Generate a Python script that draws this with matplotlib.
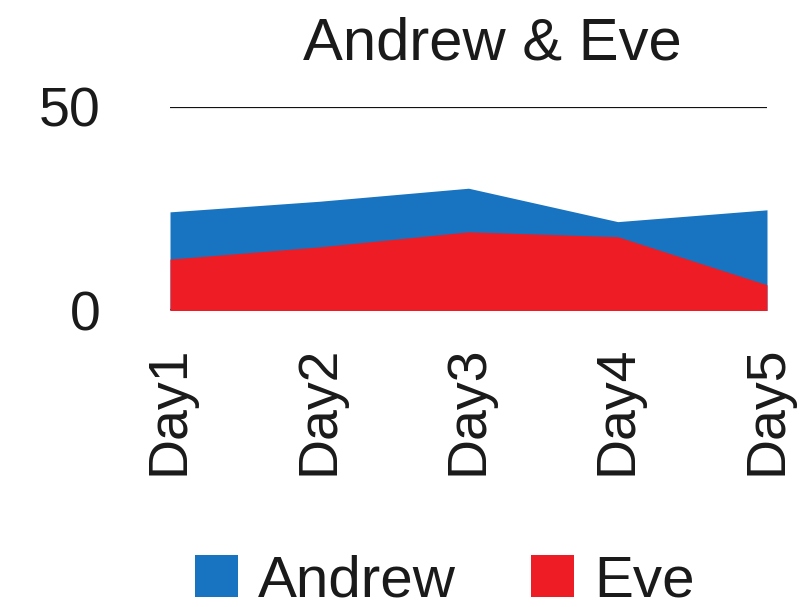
import matplotlib

matplotlib.use("Agg")
import matplotlib.pyplot as plt
import numpy as np

days = ["Day1", "Day2", "Day3", "Day4", "Day5"]
andrew = [24.2, 26.8, 30.0, 21.8, 24.7]
eve = [12.6, 15.6, 19.3, 18.1, 6.3]

blue = "#1874c0"
red = "#ee1c25"
ink = "#1a1a1a"

plt.rcParams["font.family"] = ["Liberation Sans", "DejaVu Sans"]

fig = plt.figure(figsize=(8, 6.07), dpi=100)
ax = fig.add_axes([0.2125, 0.4885, 0.74625, 0.3357])

x = np.arange(len(days))
ax.fill_between(x, 0, andrew, color=blue, linewidth=0, label="Andrew")
ax.fill_between(x, 0, eve, color=red, linewidth=0, label="Eve")

ax.set_xlim(0, len(days) - 1)
ax.set_ylim(0, 50)
ax.set_yticks([0, 50])
ax.set_xticks(x)
ax.set_xticklabels(days, rotation=90)
ax.tick_params(axis="y", length=0, pad=50, labelsize=40, labelcolor=ink)
ax.tick_params(axis="x", length=0, pad=25, labelsize=40, labelcolor=ink)
ax.yaxis.grid(True, color="#111111", linewidth=1.6)
ax.set_axisbelow(True)
for spine in ax.spines.values():
    spine.set_visible(False)

fig.text(0.616, 1 - 60 / 607, "Andrew & Eve", ha="center", va="baseline",
         fontsize=43, color=ink)

fig.legend(
    loc="center",
    bbox_to_anchor=(0.556, 0.0428),
    ncol=2,
    frameon=False,
    fontsize=42,
    handlelength=0.73,
    handleheight=0.73,
    handletextpad=0.34,
    columnspacing=1.3,
    labelcolor=ink,
)

fig.savefig("out.png", dpi=100)
